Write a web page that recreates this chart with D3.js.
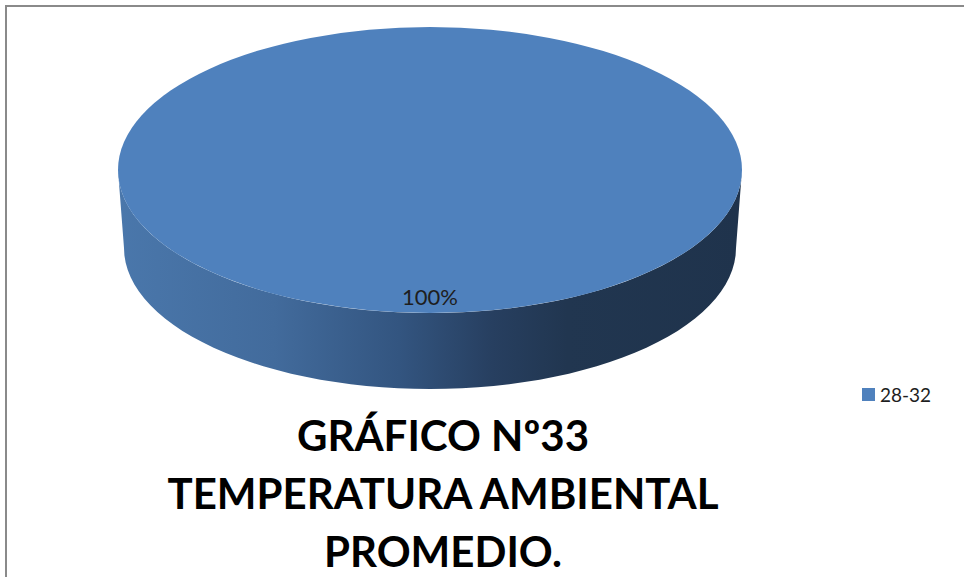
<!DOCTYPE HTML>
<html>
	<head>
		<meta charset="UTF-8">
		<title>Temperatura ambiental promedio</title>
		<script src="https://d3js.org/d3.v7.min.js"></script>
		<style>
			body { margin: 0; background: white; }
		</style>
	</head>
	<body>
		<svg id="svg" width="964" height="577"></svg>
	</body>
</html>
<script type="text/javascript">

// data
var categories = ["28-32"]
var values = [100]
var titleLines = ["GRÁFICO Nº33", "TEMPERATURA AMBIENTAL", "PROMEDIO."]

var colors = ["#4f81bd"]

var svg = d3.select("svg")

// frame of the chart area (only left and top edges are visible)
svg.append("rect")
	.attr("x", 6)
	.attr("y", 6)
	.attr("width", 1000)
	.attr("height", 1000)
	.style("fill", "white")
	.style("stroke", "#8a8a8a")
	.style("stroke-width", 2)

// 3d pie geometry
var cx = 430, cy = 170, rx = 312, ry = 143
var depth = 78, rx2 = 306, ry2 = 141

var pie = d3.pie().sort(null)
var slices = pie(values)
var total = d3.sum(values)

var arc = d3.arc().innerRadius(0).outerRadius(rx)
var labelArc = d3.arc().innerRadius(rx * 0.89).outerRadius(rx * 0.89)

// side gradient
var defs = svg.append("defs")
var grad = defs.append("linearGradient")
	.attr("id", "side")
	.attr("gradientUnits", "userSpaceOnUse")
	.attr("x1", cx - rx).attr("x2", cx + rx)
	.attr("y1", 0).attr("y2", 0)
var stops = [[0, "#4a77ab"], [0.25, "#426b9c"], [0.45, "#335580"], [0.6, "#273f60"], [0.72, "#213650"], [1, "#1f334c"]]
grad.selectAll("stop")
	.data(stops)
	.enter().append("stop")
	.attr("offset", function (d) { return d[0] })
	.attr("stop-color", function (d) { return d[1] })

// visible front wall of each slice
function sidePath(d) {
	var a0 = Math.max(d.startAngle, Math.PI / 2)
	var a1 = Math.min(d.endAngle, Math.PI * 1.5)
	if (a1 <= a0) return null
	var angles = d3.range(0, 61).map(function (i) { return a0 + (a1 - a0) * i / 60 })
	var top = angles.map(function (a) { return [cx + rx * Math.sin(a), cy - ry * Math.cos(a)] })
	var bottom = angles.slice().reverse().map(function (a) { return [cx + rx2 * Math.sin(a), cy + depth - ry2 * Math.cos(a)] })
	return d3.line()(top.concat(bottom)) + "Z"
}

svg.selectAll("path.side")
	.data(slices)
	.enter().append("path")
	.attr("class", "side")
	.attr("d", sidePath)
	.style("fill", "url(#side)")

var topG = svg.append("g")
	.attr("transform", "translate(" + cx + "," + cy + ") scale(1," + (ry / rx) + ")")

topG.selectAll("path")
	.data(slices)
	.enter().append("path")
	.attr("d", arc)
	.style("fill", function (d, i) { return colors[i] })

svg.selectAll("text.pct")
	.data(slices)
	.enter().append("text")
	.attr("class", "pct")
	.attr("x", function (d) { return cx + labelArc.centroid(d)[0] })
	.attr("y", function (d) { return cy + labelArc.centroid(d)[1] * ry / rx })
	.attr("text-anchor", "middle")
	.attr("dy", "0.35em")
	.text(function (d) { return Math.round(d.value / total * 100) + "%" })
	.style("fill", "#1e1e1e")
	.style("font-family", "Lato")
	.style("font-size", "22px")

// legend
var legend = svg.selectAll("g.legend")
	.data(categories)
	.enter().append("g")
	.attr("class", "legend")
	.attr("transform", function (d, i) { return "translate(862," + (388 + i * 24) + ")" })

legend.append("rect")
	.attr("width", 13)
	.attr("height", 13)
	.style("fill", function (d, i) { return colors[i] })

legend.append("text")
	.attr("x", 18)
	.attr("y", 14)
	.text(function (d) { return d })
	.style("fill", "#1e1e1e")
	.style("font-family", "Lato")
	.style("font-size", "19px")

// title below the pie
svg.selectAll("text.title")
	.data(titleLines)
	.enter().append("text")
	.attr("class", "title")
	.attr("x", 443)
	.attr("y", function (d, i) { return 451 + i * 58 })
	.attr("text-anchor", "middle")
	.text(function (d) { return d })
	.style("fill", "black")
	.style("font-family", "Lato")
	.style("font-weight", "bold")
	.style("font-size", "42px")

</script>
